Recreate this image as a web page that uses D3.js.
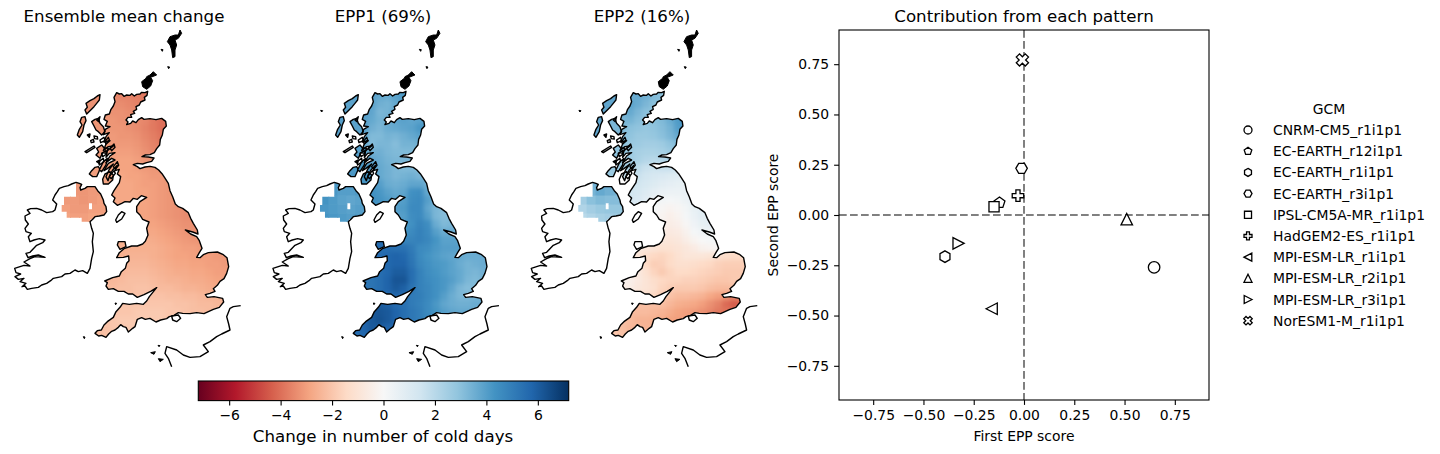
<!DOCTYPE html>
<html><head><meta charset="utf-8">
<script src="https://cdn.jsdelivr.net/npm/d3@7/dist/d3.min.js"></script>
<style>html,body{margin:0;padding:0;background:#fff}svg{display:block}text{font-family:"DejaVu Sans",sans-serif;fill:#000}</style>
</head><body><svg id="c" width="1440" height="454"></svg>
<script>
// ---------- colour scale ----------
const rdbuColors=["#67001f","#b2182b","#d6604d","#f4a582","#fddbc7","#f7f7f7","#d1e5f0","#92c5de","#4393c3","#2166ac","#053061"];
const colorLimit=7.2;
const colorbarTicks=[-6,-4,-2,0,2,4,6];
// ---------- panels ----------
const panelTitles=["Ensemble mean change","EPP1 (69%)","EPP2 (16%)"];
const panelOffsets=[0,258.3,516.6];
// ---------- gridded values (rows north to south, first column per row in gridRowStart) ----------
const gridRowStart=[2,2,1,1,0,0,0,0,0,0,2,2,2,2,5,5,6,6,6,3,2,3,2,1,2,4,3,2,1,0,0];
const meanRows=[
[-3.5,-3.6,-3.6,-3.7,-3.8],
[-3.4,-3.4,-3.5,-3.6,-3.7],
[-3.2,-3.3,-3.3,-3.4,-3.5],
[-3.2,-3.2,-3.3,-3.3,-3.4,-3.5,-3.8,-4.0],
[-3.1,-3.1,-3.2,-3.2,-3.3,-3.4,-3.6,-3.8,-4.0,-4.0],
[-3.1,-3.1,-3.1,-3.2,-3.2,-3.3,-3.5,-3.7,-3.9],
[-3.1,-3.1,-3.1,-3.1,-3.1,-3.2,-3.4,-3.6,-3.8],
[-3.0,-3.0,-3.0,-3.0,-3.0,-3.1,-3.3,-3.5,-3.6],
[-3.0,-3.0,-3.0,-2.9,-2.9,-3.0,-3.2,-3.3],
[-2.9,-2.9,-2.9,-2.9,-2.9,-3.0,-3.1,-3.2,-3.2],
[-2.8,-2.8,-2.9,-2.9,-3.0,-3.1,-3.1],
[-2.8,-2.8,-2.8,-2.9,-3.0,-3.0,-3.1,-3.2],
[-2.8,-2.8,-2.8,-2.9,-2.9,-3.0,-3.1,-3.2],
[-2.8,-2.8,-2.8,-2.8,-2.9,-3.0,-3.1,-3.2,-3.3],
[-2.9,-2.9,-3.0,-3.1,-3.2,-3.3],
[-2.9,-2.9,-3.0,-3.1,-3.2,-3.3,-3.4,-3.4],
[-2.9,-2.9,-3.0,-3.1,-3.2,-3.3,-3.3],
[-2.8,-2.8,-2.9,-3.0,-3.1,-3.2,-3.3,-3.3],
[-2.6,-2.7,-2.8,-2.9,-3.0,-3.1,-3.2,-3.2],
[-2.6,-2.6,-2.6,-2.6,-2.6,-2.7,-2.8,-2.9,-3.0,-3.0,-3.1],
[-2.6,-2.6,-2.5,-2.5,-2.5,-2.6,-2.7,-2.8,-2.9,-2.9,-3.0,-3.0,-3.0,-3.1,-3.1],
[-2.5,-2.4,-2.4,-2.4,-2.5,-2.6,-2.7,-2.8,-2.8,-2.9,-2.9,-3.0,-3.0,-3.1],
[-2.4,-2.4,-2.3,-2.3,-2.3,-2.4,-2.5,-2.6,-2.7,-2.7,-2.8,-2.8,-2.9,-3.0,-3.0],
[-2.4,-2.4,-2.3,-2.2,-2.2,-2.2,-2.3,-2.4,-2.5,-2.5,-2.6,-2.7,-2.7,-2.8,-2.9,-2.9],
[-2.3,-2.2,-2.2,-2.1,-2.1,-2.2,-2.3,-2.3,-2.4,-2.5,-2.5,-2.6,-2.7,-2.8],
[-2.2,-2.1,-2.1,-2.1,-2.1,-2.2,-2.2,-2.3,-2.3,-2.4,-2.5,-2.5,-2.6],
[-2.0,-2.0,-2.0,-2.0,-2.0,-2.0,-2.0,-2.1,-2.1,-2.2,-2.3,-2.3,-2.4,-2.5],
[-2.0,-2.0,-2.0,-1.9,-1.9,-1.9,-1.9,-2.0,-2.0,-2.1,-2.2,-2.2,-2.3,-2.3],
[-2.1,-2.0,-1.9,-1.9,-1.9,-1.9,-1.9,-1.9,-2.0,-2.0],
[-2.2,-2.1,-2.0,-2.0,-1.9,-1.9],
[-2.3,-2.2,-2.1]];
const epp1Rows=[
[4.0,3.7,3.6,3.9,4.1],
[3.9,3.5,3.4,3.7,4.0],
[4.0,3.8,3.3,3.4,3.8],
[4.0,3.7,3.4,3.5,3.8,3.9,3.8,3.9],
[4.2,4.0,3.5,3.3,3.6,3.7,3.8,3.9,4.2,4.2],
[4.2,3.8,3.2,3.2,3.4,3.3,3.5,3.7,3.9],
[4.1,3.7,3.1,3.3,3.3,3.1,3.4,3.4,3.5],
[4.2,3.9,3.5,3.5,3.3,3.2,3.2,3.2,3.3],
[4.3,4.0,3.8,3.6,3.4,3.3,3.3,3.3],
[4.4,4.2,4.0,3.7,3.5,3.3,3.2,3.2,3.2],
[4.0,3.7,3.5,3.3,3.4,3.5,3.3],
[4.2,4.0,3.6,3.5,3.6,3.8,3.8,3.5],
[4.4,4.2,3.9,3.7,3.8,4.4,4.5,3.7],
[4.5,4.3,4.1,3.9,4.0,4.5,4.6,4.0,3.5],
[4.0,4.1,4.6,4.6,3.8,3.3],
[3.9,4.0,4.5,4.6,4.0,3.3,3.1,3.1],
[4.1,4.4,4.8,4.5,3.6,3.2,3.3],
[4.3,4.6,4.9,4.6,4.0,3.6,3.6,3.6],
[4.7,4.8,4.9,4.7,4.3,3.9,3.9,3.9],
[5.5,5.5,5.4,5.4,5.1,4.6,4.5,4.2,4.0,4.0,4.0],
[5.5,5.6,5.7,5.8,5.7,5.2,4.6,4.3,4.1,3.9,3.8,3.7,3.6,3.6,3.6],
[5.6,5.7,5.8,5.8,5.3,4.7,4.4,4.2,4.1,3.9,3.6,3.4,3.5,3.6],
[5.4,5.5,5.7,6.0,6.0,5.5,4.9,4.5,4.3,4.1,3.9,3.7,3.4,3.3,3.5],
[5.2,5.3,5.5,5.8,6.2,6.2,5.5,4.9,4.6,4.4,4.2,4.0,3.7,3.3,3.2,3.4],
[5.3,5.5,5.8,6.1,5.9,5.3,4.9,4.7,4.4,4.2,3.8,3.3,3.1,3.2],
[5.6,5.7,5.6,5.1,5.0,4.7,4.4,4.0,3.6,3.3,3.3,3.4,3.4],
[6.0,5.9,5.6,5.4,5.1,4.9,4.6,4.2,3.8,3.6,3.5,3.5,3.6,3.6],
[6.1,6.2,6.1,5.8,5.5,5.2,5.0,4.6,4.3,4.0,3.8,3.7,3.7,3.7],
[5.8,6.1,6.3,6.1,5.8,5.5,5.2,5.0,4.8,4.6],
[5.6,5.8,6.1,6.0,5.8,5.6],
[5.5,5.7,5.8]];
const epp2Rows=[
[3.6,3.7,3.5,3.2,3.0],
[3.9,3.6,3.3,3.0,2.9],
[3.4,3.7,3.3,3.0,2.9],
[3.3,3.4,3.1,2.9,3.0,3.2,3.6,4.1],
[3.3,3.2,3.0,2.9,2.8,2.9,3.1,3.4,4.0,4.5],
[3.2,3.0,2.9,2.7,2.7,2.8,3.0,3.3,3.7],
[3.1,3.0,2.7,2.6,2.5,2.5,2.6,2.9,3.2],
[3.0,2.9,2.6,2.4,2.3,2.3,2.4,2.6,2.8],
[2.9,2.8,2.6,2.3,2.1,2.0,2.1,2.2],
[2.7,2.5,2.2,1.9,1.6,1.5,1.6,1.6,1.5],
[1.8,1.6,1.4,1.2,1.1,1.0,0.9],
[1.6,1.4,1.2,1.0,0.8,0.7,0.6,0.6],
[1.4,1.2,1.0,0.7,0.5,0.4,0.4,0.5],
[1.3,1.1,0.8,0.4,0.2,0.1,0.2,0.4,0.7],
[0.1,-0.1,-0.2,-0.1,0.2,0.6],
[0.0,-0.2,-0.4,-0.2,0.1,0.5,0.8,0.9],
[-0.3,-0.5,-0.4,-0.1,0.3,0.6,0.7],
[-0.5,-0.7,-0.6,-0.3,0.1,0.3,0.4,0.4],
[-0.8,-0.9,-0.8,-0.5,-0.2,0.0,0.1,0.2],
[-0.7,-0.8,-1.0,-1.1,-1.1,-1.0,-0.8,-0.6,-0.3,-0.2,-0.1],
[-0.6,-0.9,-1.3,-1.5,-1.6,-1.4,-1.1,-0.9,-0.9,-0.9,-1.0,-1.2,-1.3,-1.4,-1.4],
[-1.0,-1.4,-1.8,-1.7,-1.4,-1.2,-1.2,-1.3,-1.4,-1.5,-1.7,-1.8,-1.8,-1.8],
[-0.4,-0.7,-1.1,-1.6,-1.9,-1.6,-1.4,-1.4,-1.5,-1.6,-1.7,-1.8,-1.9,-1.9,-1.9],
[-0.3,-0.4,-0.7,-1.0,-1.3,-1.5,-1.6,-1.6,-1.7,-1.7,-1.8,-1.9,-2.0,-2.0,-1.9,-1.9],
[-0.5,-0.8,-1.0,-1.2,-1.6,-1.8,-1.9,-1.9,-1.9,-2.0,-2.2,-2.3,-2.3,-2.2],
[-1.3,-1.5,-1.9,-2.1,-2.3,-2.3,-2.4,-2.5,-2.8,-3.0,-3.2,-3.5,-3.2],
[-2.2,-2.2,-2.2,-2.2,-2.4,-2.6,-2.7,-2.8,-3.0,-3.3,-3.6,-4.1,-4.4,-4.2],
[-2.3,-2.3,-2.3,-2.4,-2.5,-2.7,-2.9,-3.0,-3.1,-3.3,-3.5,-3.8,-3.9,-3.9],
[-2.1,-2.3,-2.5,-2.5,-2.6,-2.7,-2.9,-3.0,-3.0,-3.1],
[-2.0,-2.2,-2.4,-2.4,-2.5,-2.5],
[-2.0,-2.1,-2.2]];
const gbRowsByPanel=[meanRows,epp1Rows,epp2Rows];
// Northern Ireland values
const niRowsByPanel=[
[[-3.2,-3.2,-3.2,-3.1,-3.1],[-3.1,-3.1,-3.2,-3.1,-3.0],[-3.0,-3.1,-3.1,-3.0,-3.0],[-2.9,-3.0,-3.0,-2.9,-2.9]],
[[4.3,4.2,4.0,4.0,4.1],[4.3,4.1,3.9,3.8,3.9],[4.2,4.1,4.0,3.9,4.0],[4.3,4.2,4.1,4.0,4.1]],
[[3.0,3.4,3.7,3.5,3.4],[2.5,3.0,3.2,3.1,3.1],[2.2,2.5,2.7,2.8,2.8],[2.0,2.2,2.4,2.5,2.6]]];
// ---------- map geometry, in map units (easting, southing) ----------
const gridOrigin=[280,216], gridCell=24, niOrigin=[183,500], niCell=27;
const coastGB=[[350,218],[358,222],[365,221],[372,229],[380,225],[390,226],[395,221],[403,228],[410,223],[420,222],[425,217],[435,218],[443,214],[441,226],[433,232],[435,240],[422,246],[418,255],[408,260],[410,268],[400,274],[404,280],[392,284],[395,292],[384,292],[378,300],[384,306],[380,314],[392,310],[398,303],[408,308],[415,299],[425,293],[432,298],[450,296],[468,299],[485,295],[497,304],[499,318],[490,328],[487,345],[481,358],[479,375],[470,386],[463,398],[450,404],[436,405],[426,410],[445,411],[462,414],[455,424],[440,428],[428,432],[412,430],[400,434],[412,440],[420,446],[435,441],[450,439],[465,442],[476,450],[486,461],[494,473],[505,490],[510,512],[518,530],[526,552],[535,560],[548,565],[565,578],[572,595],[580,610],[592,630],[594,642],[578,636],[556,630],[572,642],[590,650],[598,662],[606,685],[598,698],[590,712],[600,713],[610,704],[625,698],[652,696],[670,704],[681,713],[686,740],[680,760],[672,776],[660,784],[652,796],[640,806],[645,814],[630,820],[616,824],[622,832],[642,830],[668,835],[671,846],[658,862],[640,868],[612,881],[590,878],[570,881],[548,880],[535,878],[522,886],[508,890],[500,896],[482,900],[468,906],[450,895],[436,898],[425,893],[412,898],[405,920],[398,925],[385,936],[378,922],[370,920],[362,914],[355,922],[345,930],[335,934],[326,942],[318,952],[305,946],[296,948],[285,940],[292,932],[304,930],[312,915],[322,905],[340,892],[348,875],[360,862],[368,850],[388,853],[410,850],[430,853],[440,843],[448,830],[470,803],[452,814],[432,824],[412,832],[398,822],[385,822],[372,814],[355,814],[340,806],[325,808],[318,798],[322,788],[314,783],[338,773],[358,768],[364,755],[376,745],[380,730],[387,722],[386,708],[370,712],[350,713],[358,698],[372,686],[395,678],[412,678],[428,672],[436,664],[444,645],[440,625],[447,606],[428,598],[420,585],[410,575],[410,560],[420,545],[440,532],[424,527],[412,538],[400,535],[390,546],[375,545],[365,550],[352,556],[340,545],[345,534],[335,525],[342,512],[350,500],[358,488],[362,470],[352,462],[358,448],[345,452],[352,436],[338,450],[330,464],[324,482],[318,470],[328,448],[340,432],[322,446],[312,452],[325,430],[345,420],[335,415],[318,428],[330,408],[345,398],[328,400],[318,412],[322,392],[340,378],[325,380],[310,392],[318,372],[330,362],[312,366],[318,350],[328,338],[310,344],[316,328],[330,320],[316,318],[322,304],[312,298],[316,285],[328,282],[333,268],[340,258],[345,245],[342,232]];
const coastIreland=[[228,487],[238,490],[245,493],[240,503],[242,510],[255,505],[262,500],[285,500],[293,512],[302,522],[310,540],[312,550],[318,560],[320,575],[312,585],[298,588],[285,590],[278,598],[270,605],[275,625],[280,640],[277,665],[280,695],[275,715],[270,745],[262,760],[248,752],[235,755],[225,750],[210,760],[195,762],[185,770],[160,775],[152,782],[140,790],[125,795],[115,802],[95,805],[82,808],[75,798],[66,800],[78,790],[60,785],[72,775],[55,778],[45,770],[62,762],[48,758],[44,745],[60,740],[72,736],[90,738],[72,726],[90,716],[105,710],[135,712],[115,705],[98,708],[84,713],[78,700],[90,697],[100,686],[110,676],[128,668],[135,660],[118,656],[102,660],[90,665],[85,650],[94,640],[78,635],[75,625],[85,612],[76,600],[75,588],[90,580],[82,570],[92,566],[110,565],[125,570],[140,578],[158,575],[165,570],[170,552],[158,540],[165,525],[172,515],[178,505],[192,500],[205,497],[215,492]];
const niBoundary=[[228,480],[335,480],[335,598],[272,598],[272,605],[245,605],[245,593],[200,593],[200,575],[185,575],[185,555],[192,555],[192,530],[228,530]];
const niHole=[[267,550],[276,550],[276,568],[267,568]];
const coastFrance=[[722,857],[700,860],[690,865],[680,890],[686,912],[690,930],[665,942],[650,950],[630,965],[610,975],[625,995],[600,1010],[570,1012],[550,1005],[530,990],[500,980],[495,1000],[505,1015],[515,1040]];
// islands with per-panel cell value (null = no value)
const islandNames=["Lewis","Uist","Skye","Mull","Islay","Jura","Arran","Man","Anglesey","Wight","Coll","Rum"];
const islandOutlines=[
[[300,224],[298,240],[290,250],[282,260],[270,272],[260,282],[255,270],[262,262],[258,250],[270,242],[282,236],[292,228]],
[[255,290],[245,292],[240,305],[246,315],[238,328],[232,345],[238,352],[248,335],[252,315],[258,302]],
[[275,305],[285,298],[295,295],[300,310],[310,320],[315,335],[305,345],[295,335],[288,330],[282,318]],
[[290,385],[305,375],[312,383],[325,385],[318,400],[308,398],[300,415],[288,405],[296,396]],
[[275,452],[285,442],[295,440],[300,448],[290,470],[278,470],[268,462]],
[[310,425],[322,415],[318,435],[305,455],[298,450]],
[[315,462],[330,455],[340,465],[338,480],[325,492],[310,492],[308,478]],
[[365,575],[375,580],[365,597],[350,607],[347,600],[355,585]],
[[355,665],[375,665],[378,680],[360,688],[352,675]],
[[515,888],[535,885],[542,895],[530,905],[518,900]],
[[255,395],[282,378],[285,382],[260,398]],
[[282,348],[292,350],[293,357],[284,356]]];
const islandValues=[
[-3.3,-3.2,-3.2,-3.1,-3.0,-3.0,-2.9,null,-2.6,null,null,null],
[3.9,4.0,3.9,4.0,4.2,4.2,4.3,null,5.6,null,null,null],
[3.8,3.8,3.3,2.9,2.7,2.6,null,null,null,null,null,null]];
const westIslets=[
[[300,360],[312,352],[315,362],[302,368]],[[290,300],[300,290],[296,305]],[[296,425],[310,415],[312,425],[298,435]],
[[340,440],[352,425],[356,436],[346,448]],[[328,470],[342,452],[346,460],[334,476]],[[272,362],[280,358],[282,366],[274,368]],
[[305,400],[318,392],[320,402],[308,410]],[[330,385],[342,372],[345,382],[335,392]],[[290,425],[300,420],[298,430]],
[[315,365],[325,352],[328,360],[318,372]],[[262,345],[270,342],[268,352]]];
const blackIslands=[
[[540,30],[535,45],[525,45],[510,50],[502,65],[510,75],[515,90],[518,113],[525,110],[525,90],[530,75],[525,60],[535,55],[545,40]],
[[460,155],[470,165],[452,172],[458,182],[452,198],[440,208],[428,200],[425,185],[438,175],[440,170],[450,165]],
[[483,88],[489,89],[487,94]],[[503,140],[509,141],[506,146]],[[187,271],[193,272],[190,276]],
[[250,950],[255,951],[253,956]],[[345,849],[350,850],[347,854]],
[[452,998],[466,995],[462,1003]],[[475,1016],[490,1018],[480,1025]],[[474,976],[480,977],[477,980]]];
// ---------- scatter ----------
const gcmNames=["CNRM-CM5_r1i1p1","EC-EARTH_r12i1p1","EC-EARTH_r1i1p1","EC-EARTH_r3i1p1","IPSL-CM5A-MR_r1i1p1","HadGEM2-ES_r1i1p1","MPI-ESM-LR_r1i1p1","MPI-ESM-LR_r2i1p1","MPI-ESM-LR_r3i1p1","NorESM1-M_r1i1p1"];
const firstEpp=[0.647,-0.122,-0.393,-0.012,-0.149,-0.03,-0.16,0.511,-0.326,-0.008];
const secondEpp=[-0.26,0.061,-0.207,0.232,0.041,0.096,-0.466,-0.021,-0.141,0.771];
const gcmMarkers=["circle","pentagon","hexagon1","hexagon2","square","plus","left","up","right","cross"];
const scoreTicks=[-0.75,-0.5,-0.25,0,0.25,0.5,0.75];
const scoreLimit=0.92;

// ---------- drawing ----------
const svg=d3.select("#c");
const defs=svg.append("defs");
defs.append("filter").attr("id","soft").attr("x","-10%").attr("y","-10%").attr("width","120%").attr("height","120%")
  .attr("color-interpolation-filters","sRGB").append("feGaussianBlur").attr("stdDeviation",2);
const color=d3.scaleLinear().domain(d3.range(11).map(i=>-colorLimit+i*colorLimit/5)).range(rdbuColors).clamp(true);
const coastWidth=1.4, titleSize=16.67, labelSize=13.9;

panelTitles.forEach((title,p)=>{
  const x=d3.scaleLinear().domain([0,780]).range([panelOffsets[p],panelOffsets[p]+260]);
  const y=d3.scaleLinear().domain([0,1050]).range([20,370]);
  const line=d3.line().x(d=>x(d[0])).y(d=>y(d[1]));
  const closed=pts=>line(pts)+"Z";
  const uw=u=>x(u)-x(0), uh=v=>y(v)-y(0);
  const g=svg.append("g");
  const addClip=(id,dstr,rule)=>{const c=defs.append("clipPath").attr("id",id);c.append("path").attr("d",dstr).attr("clip-rule",rule||"nonzero");};
  addClip("gb"+p,closed(coastGB));
  addClip("ie"+p,closed(coastIreland));
  addClip("ni"+p,closed(niBoundary)+closed(niHole),"evenodd");
  // GB grid
  const gbCells=[];
  gbRowsByPanel[p].forEach((row,j)=>row.forEach((v,k)=>gbCells.push({c:gridRowStart[j]+k,j,v})));
  const gb=g.append("g").attr("clip-path",`url(#gb${p})`).append("g").attr("filter","url(#soft)");
  gb.selectAll("rect.pad").data(gbCells).join("rect").attr("class","pad")
    .attr("x",d=>x(gridOrigin[0]+d.c*gridCell)-6).attr("y",d=>y(gridOrigin[1]+d.j*gridCell)-6)
    .attr("width",uw(gridCell)+12).attr("height",uh(gridCell)+12).attr("fill",d=>color(d.v));
  gb.selectAll("rect.cell").data(gbCells).join("rect").attr("class","cell")
    .attr("x",d=>x(gridOrigin[0]+d.c*gridCell)).attr("y",d=>y(gridOrigin[1]+d.j*gridCell))
    .attr("width",uw(gridCell)+.3).attr("height",uh(gridCell)+.3).attr("fill",d=>color(d.v));
  // NI grid
  const niCells=[];
  niRowsByPanel[p].forEach((row,j)=>row.forEach((v,c)=>niCells.push({c,j,v})));
  g.append("g").attr("clip-path",`url(#ie${p})`).append("g").attr("clip-path",`url(#ni${p})`)
    .selectAll("rect").data(niCells).join("rect")
    .attr("x",d=>x(niOrigin[0]+d.c*niCell)).attr("y",d=>y(niOrigin[1]+d.j*niCell)-(d.j==0?8:0))
    .attr("width",uw(niCell)+1).attr("height",d=>uh(niCell)+.3+(d.j==0?8:0)).attr("fill",d=>color(d.v));
  // outlines
  g.selectAll("path.island").data(islandOutlines).join("path").attr("class","island")
    .attr("d",closed).attr("fill",(d,i)=>islandValues[p][i]==null?"none":color(islandValues[p][i]))
    .attr("stroke","#000").attr("stroke-width",coastWidth).attr("stroke-linejoin","round");
  g.selectAll("path.islet").data(westIslets).join("path").attr("class","islet")
    .attr("d",closed).attr("fill","none").attr("stroke","#000").attr("stroke-width",coastWidth).attr("stroke-linejoin","round");
  g.selectAll("path.coast").data([coastGB,coastIreland]).join("path").attr("class","coast")
    .attr("d",closed).attr("fill","none").attr("stroke","#000").attr("stroke-width",coastWidth).attr("stroke-linejoin","round");
  g.append("path").attr("d",line(coastFrance)).attr("fill","none").attr("stroke","#000").attr("stroke-width",coastWidth).attr("stroke-linejoin","round");
  g.selectAll("path.black").data(blackIslands).join("path").attr("class","black")
    .attr("d",closed).attr("fill","#000").attr("stroke","#000").attr("stroke-width",1).attr("stroke-linejoin","round");
  svg.append("text").attr("x",[124,383,642][p]).attr("y",22).attr("text-anchor","middle").attr("font-size",titleSize).text(title);
});

// colorbar
const cbarX=d3.scaleLinear().domain([-colorLimit,colorLimit]).range([198.3,568.7]);
const grad=defs.append("linearGradient").attr("id","cbar");
rdbuColors.forEach((c,i)=>grad.append("stop").attr("offset",i/10).attr("stop-color",c));
svg.append("rect").attr("x",198.3).attr("y",381).attr("width",370.4).attr("height",19.6).attr("fill","url(#cbar)").attr("stroke","#000").attr("stroke-width",1.1);
const cbAxis=svg.append("g").attr("transform","translate(0,400.6)").call(d3.axisBottom(cbarX).tickValues(colorbarTicks).tickSize(4.9).tickPadding(4.9).tickFormat(d3.format("d")));
cbAxis.select(".domain").remove();
cbAxis.selectAll("line").attr("stroke-width",1.1);
cbAxis.selectAll("text").attr("font-size",labelSize).attr("font-family","DejaVu Sans");
svg.append("text").attr("x",383).attr("y",442).attr("text-anchor","middle").attr("font-size",titleSize).text("Change in number of cold days");

// scatter
const sx=d3.scaleLinear().domain([-scoreLimit,scoreLimit]).range([839,1209]);
const sy=d3.scaleLinear().domain([-scoreLimit,scoreLimit]).range([400,30]);
const poly=(n,rot)=>d3.range(n).map(i=>{const a=rot+i*2*Math.PI/n;return [Math.sin(a),-Math.cos(a)];});
const plusPts=[[-.36,-1],[.36,-1],[.36,-.36],[1,-.36],[1,.36],[.36,.36],[.36,1],[-.36,1],[-.36,.36],[-1,.36],[-1,-.36],[-.36,-.36]];
const crossPts=plusPts.map(([a,b])=>[(a-b)*.78,(a+b)*.78]);
const shapes={pentagon:poly(5,0),hexagon1:poly(6,0),hexagon2:poly(6,Math.PI/6),
  square:[[-.88,-.88],[.88,-.88],[.88,.88],[-.88,.88]],plus:plusPts,cross:crossPts,
  left:[[-1,0],[.95,-1],[.95,1]],right:[[1,0],[-.95,-1],[-.95,1]],up:[[0,-1],[1,1],[-1,1]]};
const symbolFor=name=>name==="circle"?d3.symbolCircle:{draw(ctx,size){const r=Math.sqrt(size)/2;shapes[name].forEach(([a,b],i)=>i?ctx.lineTo(a*r,b*r):ctx.moveTo(a*r,b*r));ctx.closePath();}};
const sizeOf=(name,base)=>name==="circle"?base*base*Math.PI/4:base*base;

svg.append("g").selectAll("line").data([[sx(0),30,sx(0),400],[839,sy(0),1209,sy(0)]]).join("line")
  .attr("x1",d=>d[0]).attr("y1",d=>d[1]).attr("x2",d=>d[2]).attr("y2",d=>d[3])
  .attr("stroke","#808080").attr("stroke-width",2).attr("stroke-dasharray","7.7 3.3");
svg.append("g").selectAll("path").data(gcmNames.map((n,i)=>i)).join("path")
  .attr("transform",i=>`translate(${sx(firstEpp[i])},${sy(secondEpp[i])})`)
  .attr("d",i=>d3.symbol().type(symbolFor(gcmMarkers[i])).size(sizeOf(gcmMarkers[i],11.5))())
  .attr("fill","#fff").attr("stroke","#000").attr("stroke-width",1.3);
svg.append("rect").attr("x",839).attr("y",30).attr("width",370).attr("height",370).attr("fill","none").attr("stroke","#000").attr("stroke-width",1.1);
[["b",d3.axisBottom(sx),"translate(0,400)"],["l",d3.axisLeft(sy),"translate(839,0)"]].forEach(([k,ax,t])=>{
  const a=svg.append("g").attr("transform",t).call(ax.tickValues(scoreTicks).tickSize(4.9).tickPadding(4.9).tickFormat(d3.format(".2f")));
  a.select(".domain").remove();a.selectAll("line").attr("stroke-width",1.1);
  a.selectAll("text").attr("font-size",labelSize).attr("font-family","DejaVu Sans");
});
svg.append("text").attr("x",1024).attr("y",22).attr("text-anchor","middle").attr("font-size",titleSize).text("Contribution from each pattern");
svg.append("text").attr("x",1024).attr("y",441).attr("text-anchor","middle").attr("font-size",labelSize).text("First EPP score");
svg.append("text").attr("transform","translate(778,215) rotate(-90)").attr("text-anchor","middle").attr("font-size",labelSize).text("Second EPP score");

// legend
const legendRowY=d3.scaleLinear().domain([0,9]).range([130,320.7]);
svg.append("text").attr("x",1329).attr("y",114).attr("text-anchor","middle").attr("font-size",labelSize).text("GCM");
const lg=svg.append("g").selectAll("g").data(gcmNames).join("g").attr("transform",(d,i)=>`translate(1248,${legendRowY(i)})`);
lg.append("path").attr("d",(d,i)=>d3.symbol().type(symbolFor(gcmMarkers[i])).size(sizeOf(gcmMarkers[i],8))())
  .attr("fill","#fff").attr("stroke","#000").attr("stroke-width",1.3);
lg.append("text").attr("x",25).attr("y",5).attr("font-size",labelSize).text(d=>d);
</script></body></html>
